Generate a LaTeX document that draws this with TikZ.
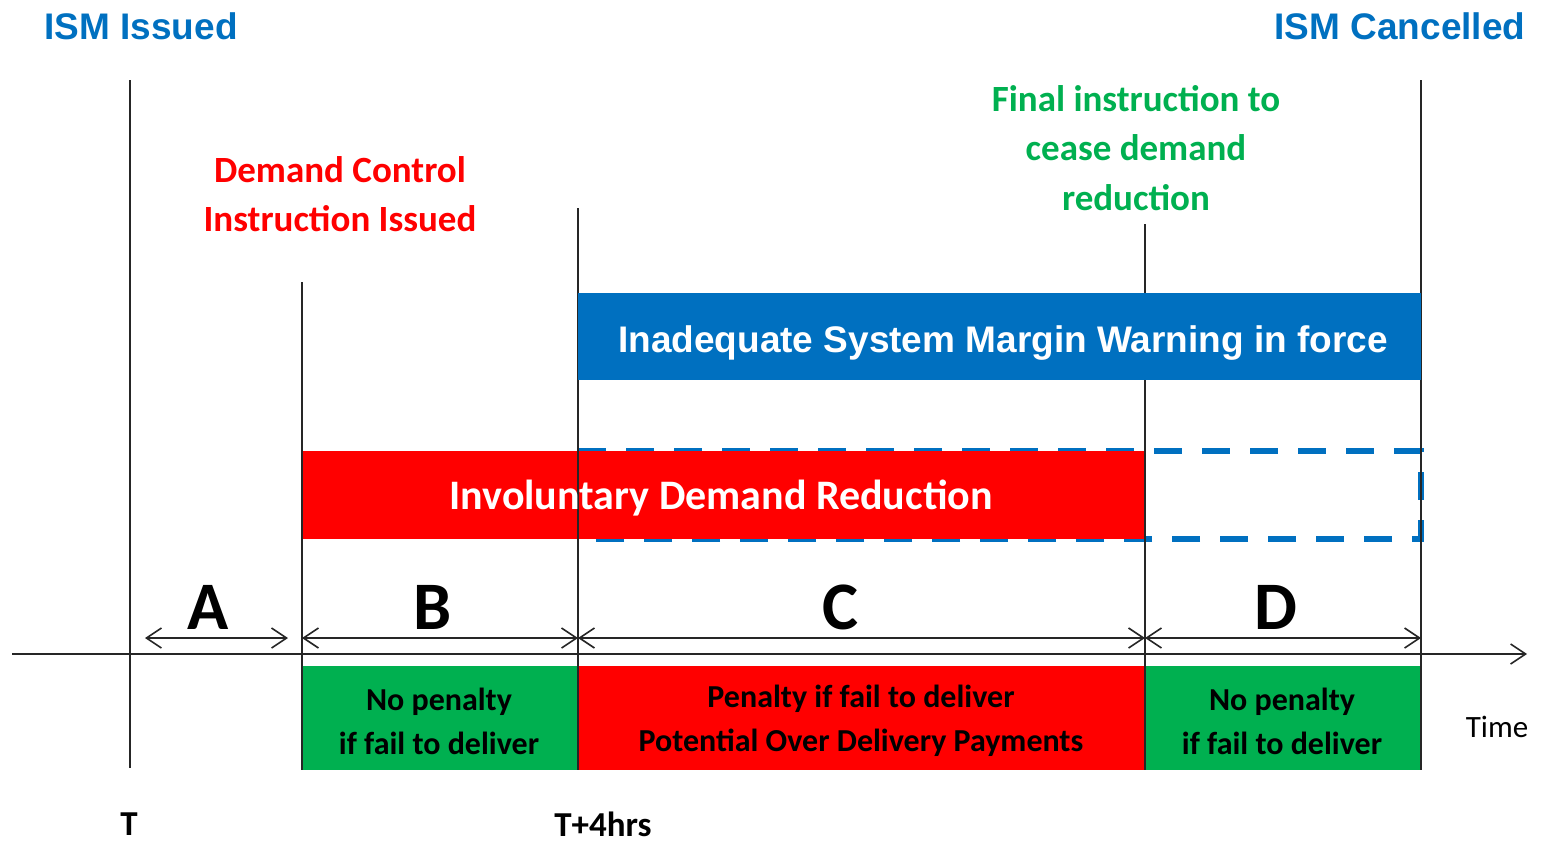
\documentclass[tikz,border=0pt]{standalone}
\usepackage{fontspec}
\setmainfont{Carlito}
\newfontfamily\arialfont{Liberation Sans}
\usetikzlibrary{arrows.meta}
\definecolor{ismblue}{HTML}{0070C0}
\definecolor{ismgreen}{HTML}{00B050}
\definecolor{ismred}{HTML}{FF0000}
\begin{document}
\begin{tikzpicture}[x=1pt,y=-1pt,
  vline/.style={line width=1.8pt, black!85},
  dim/.style={line width=1.6pt, black!85, {Straight Barb[length=15pt,width=20pt]}-{Straight Barb[length=15pt,width=20pt]}},
  bar/.style={inner sep=0pt, outer sep=0pt, anchor=north west},
  bartext/.style={text=white, anchor=base, inner sep=0pt},
  penalty/.style={align=center, font=\fontsize{32}{44}\selectfont\bfseries},
  letter/.style={font=\fontsize{68}{70}\selectfont\bfseries},
  title/.style={text=ismblue, font=\arialfont\fontsize{37}{40}\selectfont\bfseries},
  note/.style={align=center, font=\fontsize{37}{49.5}\selectfont\bfseries},
  tick/.style={font=\fontsize{35}{38}\selectfont\bfseries}]
\useasboundingbox (0,0) rectangle (1541,843);
% bottom penalty boxes
\node[bar, fill=ismgreen, minimum width=276pt, minimum height=104pt] (pB) at (302,666) {};
\node[bar, fill=ismred, minimum width=567pt, minimum height=104pt] (pC) at (578,666) {};
\node[bar, fill=ismgreen, minimum width=276pt, minimum height=104pt] (pD) at (1145,666) {};
\node[penalty] (pBt) at (439,721) {No penalty\\if fail to deliver};
\node[penalty] (pCt) at (861,721) {Penalty if fail to deliver\\Potential Over Delivery Payments};
\node[penalty] (pDt) at (1282,721) {No penalty\\if fail to deliver};
% dashed box
\draw[ismblue, line width=6pt, dash pattern=on 28pt off 20pt] (578,451) -- (1421,451) -- (1421,539) -- (578,539);
% involuntary bar
\node[bar, fill=ismred, minimum width=843pt, minimum height=88pt] (idr) at (302,451) {};
% vertical lines
\coordinate (t0top) at (130,80);   \coordinate (t0bot) at (130,768);
\coordinate (t1top) at (302,282);  \coordinate (t1bot) at (302,770);
\coordinate (t2top) at (578,208);  \coordinate (t2bot) at (578,770);
\coordinate (t3top) at (1145,224); \coordinate (t3bot) at (1145,770);
\coordinate (t4top) at (1421,80);  \coordinate (t4bot) at (1421,770);
\draw[vline] (t0top) -- (t0bot);
\draw[vline] (t1top) -- (t1bot);
\draw[vline] (t2top) -- (t2bot);
\draw[vline] (t3top) -- (t3bot);
\draw[vline] (t4top) -- (t4bot);
% ISM warning bar (covers the line at 1145)
\node[bar, fill=ismblue, minimum width=843pt, minimum height=87pt] (ism) at (578,293) {};
\node[bartext, font=\arialfont\fontsize{37}{40}\selectfont\bfseries] (ismt) at (1003,352) {Inadequate System Margin Warning in force};
\node[bartext, font=\fontsize{42}{44}\selectfont\bfseries] (idrt) at (721,509) {Involuntary Demand Reduction};
% time axis
\coordinate (axL) at (12,654); \coordinate (axR) at (1527,654);
\draw[line width=1.6pt, black!85, -{Straight Barb[length=15pt,width=20pt]}] (axL) -- (axR);
% dimension arrows
\coordinate (aL) at (145,638); \coordinate (aR) at (288,638);
\coordinate (bL) at (302,638); \coordinate (bR) at (578,638);
\coordinate (cR) at (1145,638); \coordinate (dR) at (1421,638);
\draw[dim] (aL) -- (aR);
\draw[dim] (bL) -- (bR);
\draw[dim] (bR) -- (cR);
\draw[dim] (cR) -- (dR);
\node[letter] (lA) at (208,607) {A};
\node[letter] (lB) at (433,607) {B};
\node[letter] (lC) at (840,607) {C};
\node[letter] (lD) at (1276,607) {D};
% labels
\node[title] (iss) at (141,26) {ISM Issued};
\node[title] (can) at (1400,26) {ISM Cancelled};
\node[note, text=ismred] (dci) at (340,194) {Demand Control\\Instruction Issued};
\node[note, text=ismgreen] (fin) at (1136,148) {Final instruction to\\cease demand\\reduction};
\node[font=\fontsize{31}{34}\selectfont] (time) at (1497,727) {Time};
\node[tick] (tT) at (129,824) {T};
\node[tick] (t4) at (603,824) {T+4hrs};
\end{tikzpicture}
\end{document}
